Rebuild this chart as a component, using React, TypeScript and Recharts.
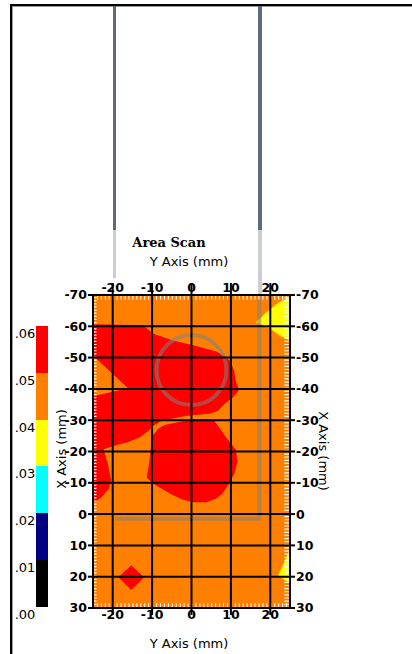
import React from 'react';
import { ComposedChart, XAxis, YAxis, CartesianGrid, Scatter, ReferenceLine } from 'recharts';

// axis ticks (mm)
const X_TICKS = [-20, -10, 0, 10, 20];
const Y_TICKS = [-70, -60, -50, -40, -30, -20, -10, 0, 10, 20, 30];

// colour scale of the scan, top to bottom
const LEVEL_COLORS = ['#ff0000', '#ff8000', '#ffff00', '#00ffff', '#000080', '#000000'];
const LEVEL_LABELS = ['.06', '.05', '.04', '.03', '.02', '.01', '.00'];

// contour regions, x = Y Axis, y = X Axis (mm)
const RED_UPPER = [
  { x: -25, y: -60.8 }, { x: -12.3, y: -60.5 }, { x: -9.7, y: -57.8 }, { x: -4.7, y: -55.6 },
  { x: 0.4, y: -54.1 }, { x: 6.3, y: -52.1 }, { x: 8.8, y: -50.3 }, { x: 10.1, y: -48.7 },
  { x: 11.0, y: -45.5 }, { x: 11.4, y: -42.3 }, { x: 12.2, y: -39.7 }, { x: 10.6, y: -37.2 },
  { x: 8.5, y: -35.2 }, { x: 6.7, y: -32.8 }, { x: 4.5, y: -31.9 }, { x: 1.5, y: -31.6 },
  { x: -1.5, y: -31.2 }, { x: -4.5, y: -30.5 }, { x: -7.6, y: -29.6 }, { x: -9.3, y: -28.4 },
  { x: -11, y: -26.4 }, { x: -13.2, y: -24.3 }, { x: -16.5, y: -22.7 }, { x: -19.9, y: -21.6 },
  { x: -22.2, y: -20.6 }, { x: -21.2, y: -16.5 }, { x: -20.3, y: -11 }, { x: -20.8, y: -8.2 },
  { x: -22.9, y: -5.1 }, { x: -25, y: -3.4 }, { x: -25, y: -37.8 }, { x: -16.3, y: -40.3 },
  { x: -25, y: -50.5 },
];
const RED_LOWER = [
  { x: -6.8, y: -28.6 }, { x: -4.7, y: -29.2 }, { x: -2.2, y: -29.8 }, { x: 0.4, y: -30.3 },
  { x: 3.5, y: -30.5 }, { x: 5.6, y: -30.2 }, { x: 6.7, y: -28.5 }, { x: 8.8, y: -24.7 },
  { x: 10.4, y: -22.2 }, { x: 11.4, y: -20.5 }, { x: 11.8, y: -16.8 }, { x: 11.0, y: -13 },
  { x: 9.7, y: -9.8 }, { x: 8, y: -6.6 }, { x: 6.3, y: -4.8 }, { x: 3.8, y: -3.6 },
  { x: 0.4, y: -3.6 }, { x: -2.5, y: -4.6 }, { x: -5.5, y: -6.4 }, { x: -9.8, y: -9.6 },
  { x: -11.5, y: -11.8 }, { x: -11, y: -15.2 }, { x: -10.6, y: -19.4 }, { x: -10.2, y: -24.7 },
  { x: -8.5, y: -27.4 },
];
const RED_SPOT = [
  { x: -18.7, y: 20.2 }, { x: -15.3, y: 16.2 }, { x: -11.9, y: 20.2 }, { x: -15.3, y: 24.4 },
];
const YELLOW_TOP = [
  { x: 16.3, y: -61.2 }, { x: 19, y: -64.5 }, { x: 22, y: -67.5 }, { x: 25, y: -69.5 },
  { x: 25, y: -55.4 }, { x: 22.5, y: -57 }, { x: 19.5, y: -59.6 },
];
const YELLOW_BOTTOM = [
  { x: 25, y: 11 }, { x: 23.5, y: 15.5 }, { x: 22, y: 19.5 }, { x: 23.5, y: 21 }, { x: 25, y: 22 },
];

// probe outline and centre ring
const PROBE_OUTLINE = [{ x: 17.2, y: -70 }, { x: 17.2, y: 1.5 }, { x: -19.4, y: 1.5 }];
const RING_CENTER = [{ x: 0, y: -46 }];

const font = 'DejaVu Sans, sans-serif';

const noDot = () => <g />;

const fillPath = (fill: string) => (p: any) => {
  const pts = (p.points || []).map((q: any) => `${q.x},${q.y}`).join(' ');
  return <polygon points={pts} fill={fill} stroke="#ffb000" strokeWidth={0.6} />;
};

const strokePath = (stroke: string, width: number, opacity = 1) => (p: any) => {
  const pts = (p.points || []).map((q: any) => `${q.x},${q.y}`).join(' ');
  return <polyline points={pts} fill="none" stroke={stroke} strokeWidth={width} strokeOpacity={opacity} />;
};

const ring = (p: any) => (
  <circle cx={p.cx} cy={p.cy} r={35} fill="none" stroke="#808080" strokeOpacity={0.55} strokeWidth={4} />
);

function Txt({ x, y, rotate = 0, size = 13, family = font, weight = 'normal', children }: any) {
  return (
    <div
      style={{
        position: 'absolute', left: x, top: y, whiteSpace: 'nowrap', fontSize: size, fontFamily: family,
        fontWeight: weight, color: '#000', lineHeight: 1,
        transform: `translate(-50%, -50%) rotate(${rotate}deg)`,
      }}
    >
      {children}
    </div>
  );
}

function Box({ l, t, w, h, c }: any) {
  return <div style={{ position: 'absolute', left: l, top: t, width: w, height: h, background: c }} />;
}

export default function App() {
  const tick = { fill: '#000', fontSize: 12.5, fontWeight: 'bold', fontFamily: font };
  const tickLine = { stroke: '#000', strokeWidth: 2 };
  const axisLine = { stroke: '#000', strokeWidth: 1.5 };
  const segH = 46.8;

  return (
    <div style={{ position: 'absolute', left: 0, top: 0, width: 412, height: 654, background: '#fff', overflow: 'hidden' }}>
      {/* window frame */}
      <Box l={10} t={4} w={402} h={1.5} c="#000" />
      <Box l={10} t={5.5} w={402} h={1} c="#9a9a9a" />
      <Box l={10} t={4} w={1.5} h={650} c="#000" />
      <Box l={11.5} t={5.5} w={1} h={650} c="#9a9a9a" />

      {/* probe */}
      <Box l={113} t={6} w={3} h={224} c="#5b6b7b" />
      <Box l={258} t={6} w={4} h={224} c="#5b6b7b" />
      <Box l={113} t={230} w={3} h={48} c="#c9ced3" />
      <Box l={258} t={230} w={4} h={65} c="#c9ced3" />

      {/* colour bar */}
      {LEVEL_COLORS.map((c, i) => (
        <Box key={c} l={36} t={326 + i * segH} w={12} h={segH + 0.5} c={c} />
      ))}
      {LEVEL_LABELS.map((s, i) => (
        <Txt key={s} x={25} y={333 + i * segH}>{s}</Txt>
      ))}

      <Txt x={169} y={242} family="DejaVu Serif, serif" weight="bold">Area Scan</Txt>
      <Txt x={189} y={261}>Y Axis (mm)</Txt>
      <Txt x={189} y={643}>Y Axis (mm)</Txt>
      <Txt x={61} y={449} rotate={-90}>X Axis (mm)</Txt>
      <Txt x={323} y={451} rotate={90}>X Axis (mm)</Txt>

      <div style={{ position: 'absolute', left: 0, top: 0 }}>
        <ComposedChart width={412} height={654} margin={{ top: 270, right: 0, bottom: 0, left: 0 }}>
          <CartesianGrid xAxisId="b" yAxisId="l" fill="#ff8000" horizontal={false} vertical={false} />

          <Scatter xAxisId="b" yAxisId="l" data={RED_UPPER} line={fillPath('#ff0000')} shape={noDot} isAnimationActive={false} />
          <Scatter xAxisId="b" yAxisId="l" data={RED_LOWER} line={fillPath('#ff0000')} shape={noDot} isAnimationActive={false} />
          <Scatter xAxisId="b" yAxisId="l" data={RED_SPOT} line={fillPath('#ff0000')} shape={noDot} isAnimationActive={false} />
          <Scatter xAxisId="b" yAxisId="l" data={YELLOW_TOP} line={fillPath('#ffff00')} shape={noDot} isAnimationActive={false} />
          <Scatter xAxisId="b" yAxisId="l" data={YELLOW_BOTTOM} line={fillPath('#ffff00')} shape={noDot} isAnimationActive={false} />

          <Scatter xAxisId="b" yAxisId="l" data={PROBE_OUTLINE} line={strokePath('#808080', 4, 0.55)} shape={noDot} isAnimationActive={false} />
          <Scatter xAxisId="b" yAxisId="l" data={RING_CENTER} shape={ring} isAnimationActive={false} />

          {/* minor tick marks along the inside of the frame */}
          <ReferenceLine xAxisId="b" yAxisId="l" y={-69.1} stroke="#fff" strokeWidth={4} strokeDasharray="1 2.94" zIndex={650} />
          <ReferenceLine xAxisId="b" yAxisId="l" y={29.1} stroke="#fff" strokeWidth={4} strokeDasharray="1 2.94" zIndex={650} />
          <ReferenceLine xAxisId="b" yAxisId="l" x={24.2} stroke="#eaffff" strokeWidth={5} strokeDasharray="1.2 1.93" zIndex={650} />
          <ReferenceLine xAxisId="b" yAxisId="l" x={-24.5} stroke="#fff" strokeWidth={3} strokeDasharray="1.2 1.93" zIndex={650} />

          <CartesianGrid xAxisId="b" yAxisId="l" stroke="#000" strokeWidth={2} fill="none" zIndex={700} />

          <XAxis xAxisId="b" type="number" dataKey="x" orientation="bottom" domain={[-25, 25]} ticks={X_TICKS}
            allowDataOverflow height={46} tick={tick} tickLine={tickLine} axisLine={axisLine} tickSize={7} tickMargin={-5} zIndex={800} />
          <XAxis xAxisId="t" type="number" dataKey="x" orientation="top" domain={[-25, 25]} ticks={X_TICKS} interval={0}
            allowDataOverflow height={25} tick={tick} tickLine={tickLine} axisLine={axisLine} tickSize={12} tickMargin={-8.5} zIndex={800} />
          <YAxis yAxisId="l" type="number" dataKey="y" orientation="left" domain={[-70, 30]} reversed ticks={Y_TICKS}
            allowDataOverflow width={93} tick={tick} tickLine={tickLine} axisLine={axisLine} tickSize={5} tickMargin={1} zIndex={800} />
          <YAxis yAxisId="r" type="number" orientation="right" domain={[-70, 30]} reversed ticks={Y_TICKS}
            allowDataOverflow width={122} tick={tick} tickLine={tickLine} axisLine={axisLine} tickSize={5} tickMargin={1} zIndex={800} />
        </ComposedChart>
      </div>
    </div>
  );
}
